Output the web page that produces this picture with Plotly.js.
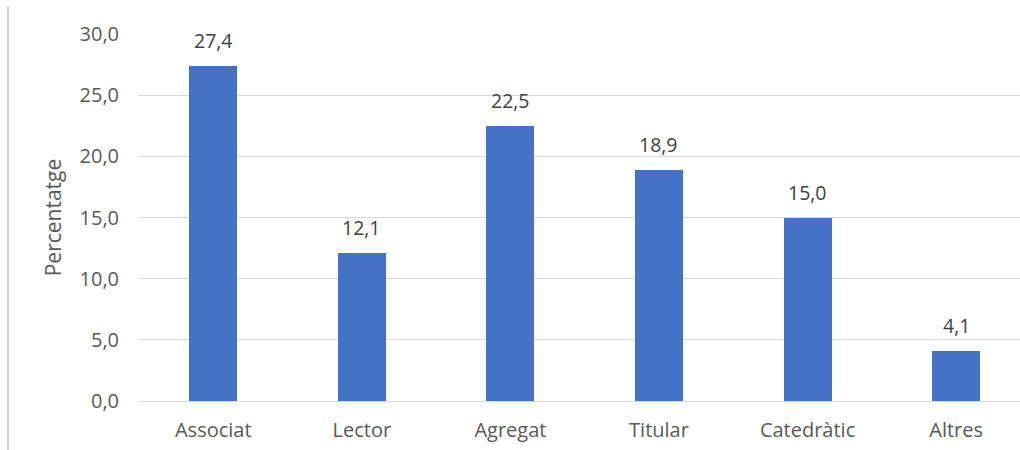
<!DOCTYPE html>
<html>
<head>
<meta charset="utf-8">
<script src="https://cdn.plot.ly/plotly-3.0.1.min.js"></script>
<style>
html,body{margin:0;padding:0;background:#fff;}
#chart{width:1020px;height:450px;}
</style>
</head>
<body>
<div id="chart"></div>
<script>
const categories = ["Associat", "Lector", "Agregat", "Titular", "Catedràtic", "Altres"];
const percentages = [27.4, 12.1, 22.5, 18.9, 15.0, 4.1];
const yTicks = [0, 5, 10, 15, 20, 25, 30];

const fontFam = "Open Sans, Noto Sans, sans-serif";

const trace = {
  type: "bar",
  x: categories,
  y: percentages,
  marker: {color: "#4472C4"},
  width: 0.323,
  hoverinfo: "x+y"
};

const labelAnnotations = categories.map((c, i) => ({
  x: c, y: percentages[i], xref: "x", yref: "y",
  text: percentages[i].toFixed(1).replace(".", ","),
  showarrow: false, yanchor: "bottom", yshift: 10,
  font: {family: fontFam, size: 19.5, color: "#404040"}
}));

const layout = {
  width: 1020,
  height: 450,
  margin: {l: 139, r: 0, t: 34, b: 49},
  paper_bgcolor: "#ffffff",
  plot_bgcolor: "#ffffff",
  separators: ",.",
  showlegend: false,
  bargap: 0,
  xaxis: {
    type: "category",
    range: [-0.5, 5.43],
    showgrid: false,
    showline: false,
    zeroline: false,
    ticks: "",
    tickfont: {family: fontFam, size: 20, color: "#595959"},
    ticklabelstandoff: 15
  },
  yaxis: {
    range: [0, 30],
    tickvals: yTicks,
    tickformat: ".1f",
    showgrid: true,
    gridcolor: "#d9d9d9",
    gridwidth: 1,
    zeroline: true,
    zerolinecolor: "#d9d9d9",
    zerolinewidth: 1,
    showline: false,
    ticks: "",
    tickfont: {family: fontFam, size: 20, color: "#595959"},
    ticklabelstandoff: 19,
    title: {text: "Percentatge", font: {family: fontFam, size: 21, color: "#595959"}, standoff: 12}
  },
  annotations: labelAnnotations,
  shapes: [{
    type: "line", xref: "paper", yref: "paper",
    x0: (8 - 139) / 881, x1: (8 - 139) / 881,
    y0: -49 / 367, y1: (367 + 28) / 367,
    line: {color: "#c0c0c0", width: 1.5}
  }]
};

Plotly.newPlot("chart", [trace], layout, {displayModeBar: false, staticPlot: true});
</script>
</body>
</html>
